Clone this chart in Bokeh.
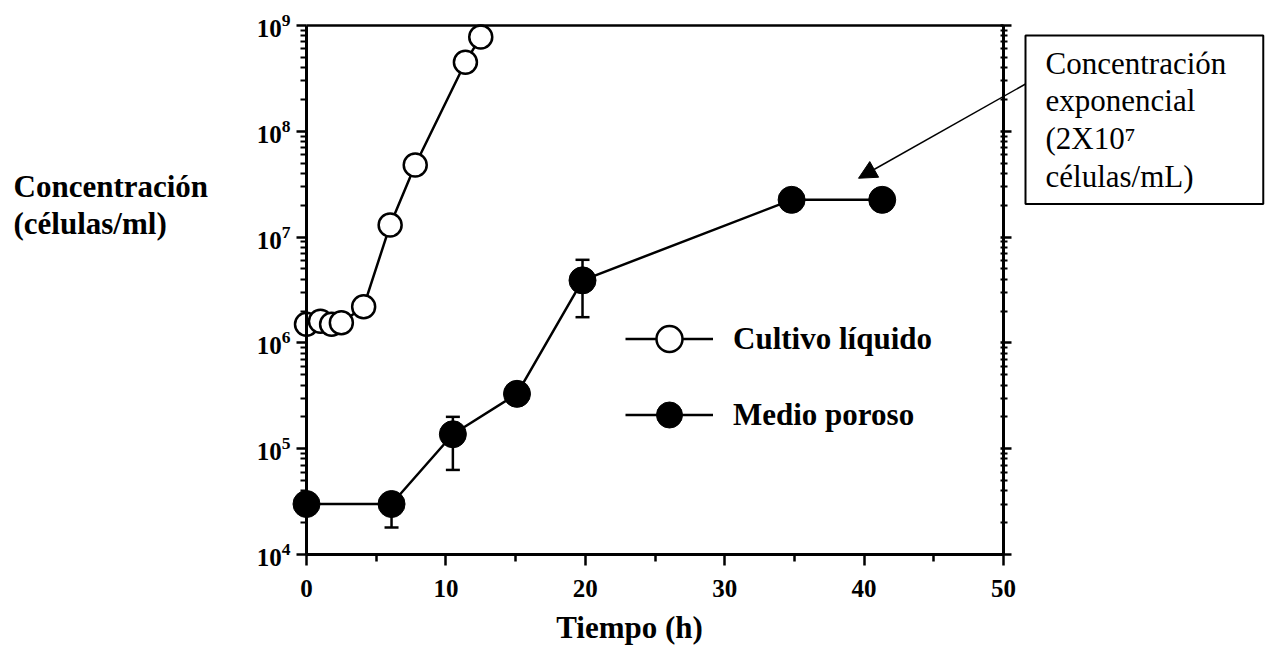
from bokeh.plotting import figure
from bokeh.models import (Range1d, LogAxis, LinearAxis, FixedTicker, Legend, LegendItem, Label,
                          Arrow, NormalHead, Whisker, TeeHead, ColumnDataSource,
                          CustomJSTickFormatter)
from bokeh.embed import file_html
from bokeh.resources import INLINE

# ---------------- data ----------------
liq_t = [0.0, 1.0, 1.8, 2.5, 4.1, 6.0, 7.8, 11.4, 12.5]
liq_c = [1.5e6, 1.6e6, 1.5e6, 1.55e6, 2.2e6, 1.3e7, 4.8e7, 4.5e8, 7.8e8]

por_t = [0.0, 6.1, 10.5, 15.1, 19.8, 34.8, 41.3]
por_c = [3.0e4, 3.0e4, 1.37e5, 3.3e5, 3.9e6, 2.25e7, 2.25e7]

err_t = [6.1, 10.5, 19.8]
err_lo = [1.8e4, 6.3e4, 1.75e6]
err_hi = [3.0e4, 2.0e5, 6.1e6]

x_ticks = [0, 10, 20, 30, 40, 50]
x_minor = [5, 15, 25, 35, 45]
y_ticks = [1e4, 1e5, 1e6, 1e7, 1e8, 1e9]
y_minor = [m * d for d in [1e4, 1e5, 1e6, 1e7, 1e8] for m in range(2, 10)]

x_lim = (0, 50)
y_lim = (1e4, 1e9)

arrow_from = (51.58, 2.8e8)
arrow_to = (39.6, 3.6e7)

SERIF = "Liberation Serif"

# page layout (pixels): plot box 306..1003 x 25..554 on a 1265x647 canvas
W, H = 1265, 647
BOX_L, BOX_R, BOX_T, BOX_B = 306, 1003, 25, 554
px_per_x = (BOX_R - BOX_L) / (x_lim[1] - x_lim[0])
px_per_dec = (BOX_B - BOX_T) / 5.0
x_range = Range1d(x_lim[0] - BOX_L / px_per_x, x_lim[1] + (W - BOX_R) / px_per_x)
y_range = Range1d(10 ** (4 - (H - BOX_B) / px_per_dec), 10 ** (9 + BOX_T / px_per_dec))

p = figure(frame_width=W, frame_height=H, x_range=x_range, y_range=y_range,
           y_axis_type="log", output_backend="svg", toolbar_location=None,
           min_border=0)
p.title.visible = False
p.grid.visible = False
p.outline_line_color = None
p.background_fill_color = "white"
p.border_fill_color = "white"

# bottom axis
xa = p.xaxis[0]
xa.fixed_location = y_lim[0]
xa.bounds = x_lim
xa.ticker = FixedTicker(ticks=x_ticks, minor_ticks=x_minor)
xa.axis_line_width = 3
xa.major_tick_in = 0
xa.major_tick_out = 11
xa.minor_tick_in = 0
xa.minor_tick_out = 7
xa.major_tick_line_width = 2.5
xa.minor_tick_line_width = 2.5
xa.major_label_text_font = SERIF
xa.major_label_text_font_style = "bold"
xa.major_label_text_font_size = "25px"
xa.major_label_text_color = "black"
xa.major_label_standoff = 14

# left axis
ya = p.yaxis[0]
ya.fixed_location = x_lim[0]
ya.bounds = y_lim
ya.ticker = FixedTicker(ticks=y_ticks, minor_ticks=y_minor)
ya.axis_line_width = 3
ya.major_tick_in = 0
ya.major_tick_out = 10
ya.minor_tick_in = 0
ya.minor_tick_out = 6
ya.major_tick_line_width = 2.5
ya.minor_tick_line_width = 2
ya.major_label_text_font = SERIF
ya.major_label_text_font_style = "bold"
ya.major_label_text_font_size = "25px"
ya.major_label_text_color = "black"
ya.major_label_standoff = 6

# right axis (ticks only)
ra = LogAxis(fixed_location=x_lim[1], bounds=y_lim,
             ticker=FixedTicker(ticks=y_ticks, minor_ticks=y_minor),
             formatter=CustomJSTickFormatter(code="return ''"),
             axis_line_width=3, major_tick_in=3, major_tick_out=8,
             minor_tick_in=3, minor_tick_out=4, major_tick_line_width=2.5,
             minor_tick_line_width=2, major_label_standoff=0)
p.add_layout(ra, "right")

# top frame line (no ticks)
ta = LinearAxis(fixed_location=y_lim[1], bounds=x_lim,
                ticker=FixedTicker(ticks=[], minor_ticks=[]),
                axis_line_width=2.5, major_tick_out=0, major_tick_in=0,
                minor_tick_out=0, minor_tick_in=0,
                formatter=CustomJSTickFormatter(code="return ''"))
p.add_layout(ta, "above")

# error bars
esrc = ColumnDataSource(dict(base=err_t, lower=err_lo, upper=err_hi))
wh = Whisker(source=esrc, base="base", lower="lower", upper="upper", dimension="height",
             line_width=2.5, line_color="black", level="underlay",
             upper_head=TeeHead(size=14, line_width=2.5, line_color="black"),
             lower_head=TeeHead(size=14, line_width=2.5, line_color="black"))
p.add_layout(wh)

# series
l1 = p.line(liq_t, liq_c, line_width=2.5, line_color="black")
s1 = p.scatter(liq_t, liq_c, marker="circle", size=23, fill_color="white",
               line_color="black", line_width=2.5)
l2 = p.line(por_t, por_c, line_width=2.5, line_color="black")
s2 = p.scatter(por_t, por_c, marker="circle", size=27, fill_color="black",
               line_color="black", line_width=1)

legend = Legend(items=[LegendItem(label="Cultivo líquido", renderers=[l1, s1]),
                       LegendItem(label="Medio poroso", renderers=[l2, s2])],
                location=(625, 200), glyph_width=88, glyph_height=65, label_standoff=20,
                spacing=11, padding=0, margin=0, border_line_color=None,
                background_fill_color="white", background_fill_alpha=1.0,
                label_text_font=SERIF, label_text_font_style="bold",
                label_text_color="black", label_text_font_size="31px")
p.add_layout(legend)

# axis titles
p.add_layout(Label(x=13, y=H - 186, x_units="screen", y_units="screen", text="Concentración",
                   text_font=SERIF, text_font_style="bold", text_font_size="31px",
                   text_color="black", text_align="left", text_baseline="alphabetic"))
p.add_layout(Label(x=13, y=H - 223, x_units="screen", y_units="screen", text="(células/ml)",
                   text_font=SERIF, text_font_style="bold", text_font_size="31px",
                   text_color="black", text_align="left", text_baseline="alphabetic"))
p.add_layout(Label(x=629, y=H - 627, x_units="screen", y_units="screen", text="Tiempo (h)",
                   text_font=SERIF, text_font_style="bold", text_font_size="31px",
                   text_color="black", text_align="center", text_baseline="alphabetic"))

# annotation box + arrow
p.add_layout(Arrow(x_start=arrow_from[0], y_start=arrow_from[1], x_end=arrow_to[0], y_end=arrow_to[1],
                   line_width=1.5, line_color="black",
                   end=NormalHead(size=18, fill_color="black", line_color="black")))
p.add_layout(Label(x=1025, y=H - 35, x_units="screen", y_units="screen",
                   text="Concentración\nexponencial\n(2X10⁷\ncélulas/mL)",
                   text_font=SERIF, text_font_size="31px", text_color="black",
                   text_align="left", text_baseline="top", text_line_height=1.08,
                   border_line_color="black", border_line_width=2,
                   background_fill_color="white",
                   padding=dict(left=20, right=37, top=10, bottom=10)))

open("out.html", "w").write(file_html(p, INLINE))
